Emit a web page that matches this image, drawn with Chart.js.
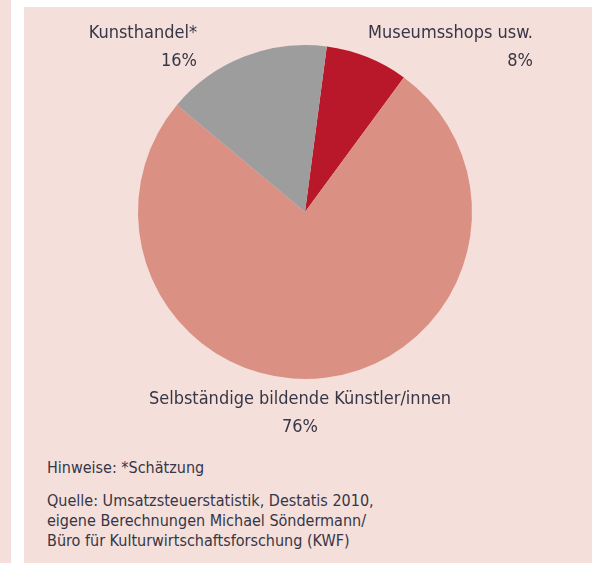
<!DOCTYPE html>
<html>
<head>
<meta charset="utf-8">
<script src="https://cdn.jsdelivr.net/npm/chart.js@4/dist/chart.umd.min.js"></script>
<style>
  body { margin: 0; background: #fff; width: 592px; height: 563px; overflow: hidden; position: relative; }
  #strip { position: absolute; left: 0; top: 0; width: 11px; height: 563px; background: #f4dfda; }
  #panel { position: absolute; left: 24px; top: 7px; right: 0; bottom: 0; background: #f4dfda; }
  #waka { position: absolute; left: 0; top: 0; }
  .note { position: absolute; left: 23px; font-family: "Liberation Sans Narrow", "DejaVu Sans Condensed", sans-serif; font-size: 16px; color: #363646; line-height: 20px; white-space: nowrap; }
</style>
</head>
<body>
<div id="strip"></div>
<div id="panel">
  <canvas id="waka" width="568" height="430"></canvas>
  <div class="note" style="top:451px">Hinweise: *Schätzung</div>
  <div class="note" style="top:484px">Quelle: Umsatzsteuerstatistik, Destatis 2010,<br>eigene Berechnungen Michael Söndermann/<br>Büro für Kulturwirtschaftsforschung (KWF)</div>
</div>
<script>
const labels = ['Museumsshops usw.', 'Selbständige bildende Künstler/innen', 'Kunsthandel*']
const shares = [8, 76, 16]
const colors = ['#b9172a', '#db9084', '#9d9d9d']

// where each slice's caption goes (canvas px)
const captionSpots = [
    { x: 509, y: 31, align: 'right' },
    { x: 276, y: 397, align: 'center' },
    { x: 173, y: 31, align: 'right' }
]

const captions = {
    id: 'captions',
    afterDraw(chart) {
        const ctx = chart.ctx
        const ds = chart.data.datasets[0]
        ctx.save()
        ctx.fillStyle = '#363646'
        ctx.font = '18px "Liberation Sans Narrow", "DejaVu Sans Condensed", sans-serif'
        ctx.textBaseline = 'alphabetic'
        chart.data.labels.forEach((lab, i) => {
            const s = captionSpots[i]
            ctx.textAlign = s.align
            ctx.fillText(lab, s.x, s.y)
            ctx.fillText(ds.data[i] + '%', s.x, s.y + 28)
        })
        ctx.restore()
    }
}

const config = {
    type: 'pie',
    data: {
        labels: labels,
        datasets: [
            {
                data: shares,
                backgroundColor: colors,
                borderWidth: 0
            }
        ]
    },
    options: {
        responsive: false,
        animation: false,
        rotation: 7.5,
        layout: {
            padding: { top: 38, bottom: 58, left: 0, right: 6 }
        },
        plugins: {
            legend: { display: false },
            tooltip: { enabled: false }
        }
    },
    plugins: [captions]
}

new Chart(document.getElementById('waka'), config)
</script>
</body>
</html>
